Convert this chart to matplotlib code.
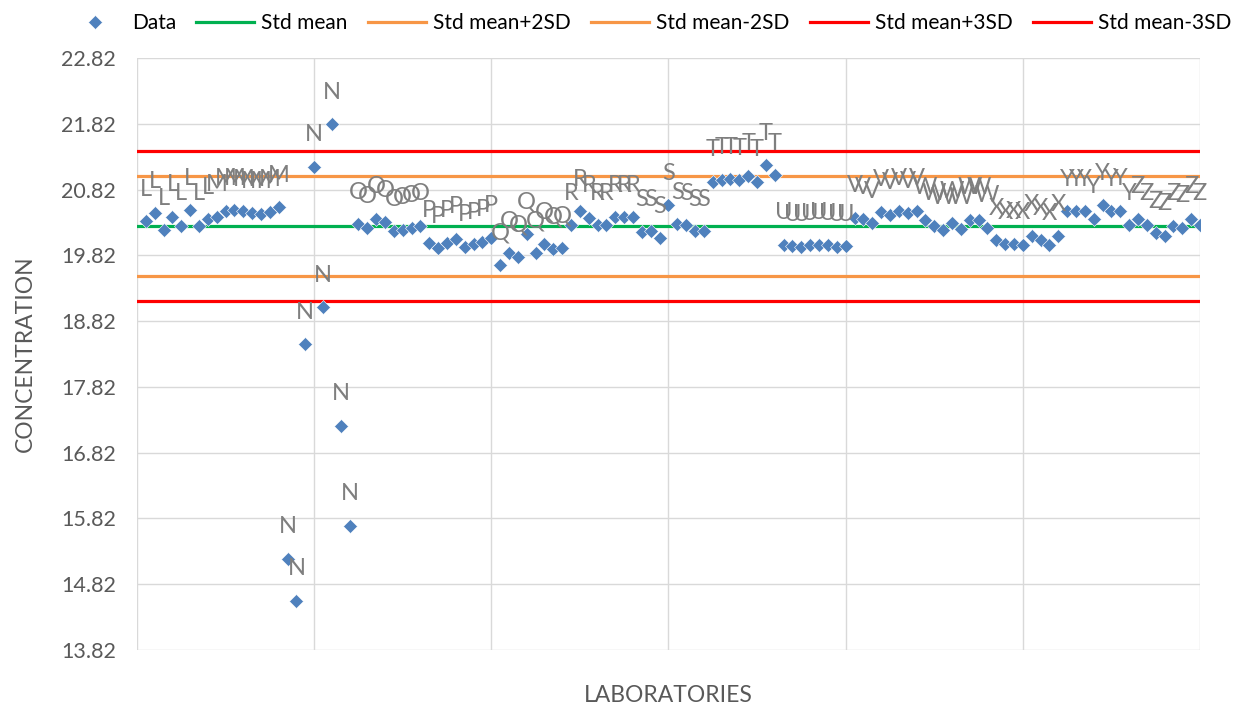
import numpy as np
import matplotlib
matplotlib.use("Agg")
from matplotlib import pyplot as plt

plt.rcParams['font.family'] = ['Lato', 'DejaVu Sans']

# one letter per laboratory, 8 results each
labs = ["L", "M", "N", "O", "P", "Q", "R", "S", "T", "U", "V", "W", "X", "Y", "Z"]
values = [
    20.34, 20.46, 20.20, 20.41, 20.27, 20.51, 20.27, 20.37,   # L
    20.41, 20.50, 20.51, 20.49, 20.46, 20.45, 20.48, 20.55,   # M
    15.21, 14.57, 18.47, 21.17, 19.03, 21.81, 17.23, 15.71,   # N
    20.29, 20.23, 20.38, 20.32, 20.19, 20.21, 20.24, 20.27,   # O
    20.01, 19.93, 20.01, 20.07, 19.95, 19.99, 20.03, 20.09,   # P
    19.68, 19.86, 19.80, 20.15, 19.86, 20.00, 19.91, 19.93,   # Q
    20.28, 20.49, 20.39, 20.28, 20.28, 20.40, 20.40, 20.40,   # R
    20.18, 20.19, 20.08, 20.58, 20.29, 20.28, 20.19, 20.19,   # S
    20.94, 20.97, 20.98, 20.96, 21.03, 20.94, 21.19, 21.04,   # T
    19.98, 19.96, 19.95, 19.97, 19.98, 19.97, 19.95, 19.96,   # U
    20.39, 20.37, 20.31, 20.48, 20.44, 20.50, 20.46, 20.50,   # V
    20.36, 20.27, 20.21, 20.31, 20.22, 20.36, 20.36, 20.24,   # W
    20.05, 19.99, 20.00, 19.98, 20.11, 20.05, 19.97, 20.11,   # X
    20.49, 20.49, 20.49, 20.38, 20.58, 20.49, 20.50, 20.28,   # Y
    20.38, 20.28, 20.16, 20.12, 20.27, 20.24, 20.38, 20.28,   # Z
]
std_mean = 20.27
std_sd = 0.38

labels = [lab for lab in labs for _ in range(8)]
x = np.arange(1, len(values) + 1)

fig = plt.figure(figsize=(12.48, 7.11), dpi=100)
ax = fig.add_axes([0.1098, 0.0858, 0.8517, 0.8326])

ax.plot(x, values, 'D', color='#4F81BD', ms=7.4, mec='white', mew=0.4,
        zorder=4, label="Data")
xs = [0, 120]
ax.plot(xs, [std_mean] * 2, color='#00B050', lw=2.3, zorder=3, label="Std mean")
ax.plot(xs, [std_mean + 2 * std_sd] * 2, color='#F79646', lw=2.3, zorder=3, label="Std mean+2SD")
ax.plot(xs, [std_mean - 2 * std_sd] * 2, color='#F79646', lw=2.3, zorder=3, label="Std mean-2SD")
ax.plot(xs, [std_mean + 3 * std_sd] * 2, color='#FF0000', lw=2.3, zorder=3, label="Std mean+3SD")
ax.plot(xs, [std_mean - 3 * std_sd] * 2, color='#FF0000', lw=2.3, zorder=3, label="Std mean-3SD")

# data labels above each point
for xi, yi, lab in zip(x, values, labels):
    ax.annotate(lab, (xi, yi), xytext=(0, 23), textcoords='offset points',
                ha='center', va='center', fontsize=17, color='#7F7F7F', zorder=5)

ax.set_xlim(0, 120)
ax.set_ylim(13.82, 22.82)
ax.set_xticks(np.arange(0, 121, 20))
ax.set_xticklabels([])
ax.set_yticks(np.arange(13.82, 22.83, 1.0))
ax.set_yticklabels([f"{v:.2f}" for v in np.arange(13.82, 22.83, 1.0)])
ax.tick_params(length=0, labelsize=15.5, labelcolor='#595959', pad=15)
ax.grid(True, color='#D9D9D9', lw=1)
ax.set_axisbelow(True)
for s in ax.spines.values():
    s.set_visible(False)

ax.set_ylabel("CONCENTRATION", fontsize=16.5, color='#595959', labelpad=18)
ax.set_xlabel("LABORATORIES", fontsize=16.5, color='#595959', labelpad=10)

fig.legend(loc='upper center', bbox_to_anchor=(0.52, 1.008), ncol=6, frameon=False,
           fontsize=15, handlelength=2.8, columnspacing=0.95, handletextpad=0.35,
           labelcolor='#000000')

fig.savefig("out.png", dpi=100)
